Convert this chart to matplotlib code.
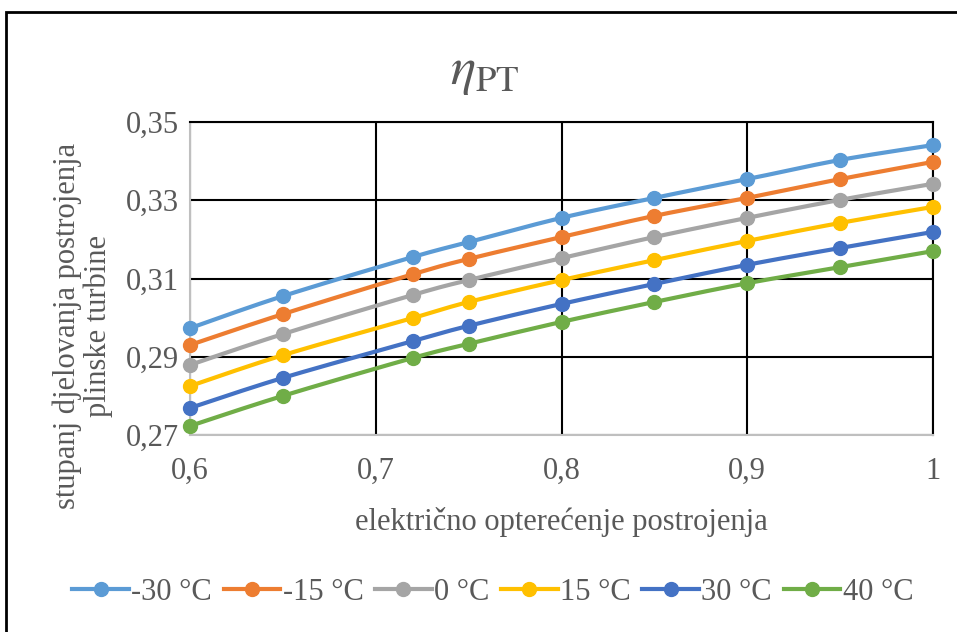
import numpy as np
import matplotlib
matplotlib.use('Agg')
import matplotlib.pyplot as plt
from matplotlib.patches import Rectangle
from matplotlib.lines import Line2D

# data
load = [0.6, 0.65, 0.72, 0.75, 0.8, 0.85, 0.9, 0.95, 1.0]
temps = ['-30 °C', '-15 °C', '0 °C', '15 °C', '30 °C', '40 °C']
eta_m30 = [0.2973, 0.3055, 0.3155, 0.3193, 0.3255, 0.3306, 0.3354, 0.3403, 0.3441]
eta_m15 = [0.2930, 0.3009, 0.3111, 0.3150, 0.3206, 0.3260, 0.3306, 0.3354, 0.3398]
eta_0 = [0.2879, 0.2958, 0.3058, 0.3096, 0.3152, 0.3206, 0.3255, 0.3301, 0.3342]
eta_15 = [0.2825, 0.2904, 0.2999, 0.3040, 0.3096, 0.3147, 0.3196, 0.3242, 0.3283]
eta_30 = [0.2769, 0.2846, 0.2940, 0.2979, 0.3035, 0.3086, 0.3135, 0.3178, 0.3219]
eta_40 = [0.2723, 0.2800, 0.2897, 0.2933, 0.2989, 0.3040, 0.3088, 0.3129, 0.3170]
series = [eta_m30, eta_m15, eta_0, eta_15, eta_30, eta_40]
colors = ['#5B9BD5', '#ED7D31', '#A5A5A5', '#FFC000', '#4472C4', '#70AD47']
xticks = [0.6, 0.7, 0.8, 0.9, 1.0]
xticklabels = ['0,6', '0,7', '0,8', '0,9', '1']
yticks = [0.27, 0.29, 0.31, 0.33, 0.35]
yticklabels = ['0,27', '0,29', '0,31', '0,33', '0,35']

txt = '#595959'
plt.rcParams['font.family'] = ['Liberation Serif', 'DejaVu Serif']
plt.rcParams['mathtext.fontset'] = 'stix'


def smooth(x, y, n=20):
    # Excel-style smoothed line (cubic bezier through the points)
    x = np.asarray(x, float)
    y = np.asarray(y, float)
    px = np.concatenate([[x[0]], x, [x[-1]]])
    py = np.concatenate([[y[0]], y, [y[-1]]])
    t = np.linspace(0, 1, n)
    xs, ys = [], []
    for i in range(1, len(px) - 2):
        p0 = np.array([px[i], py[i]])
        p3 = np.array([px[i + 1], py[i + 1]])
        c1 = p0 + (np.array([px[i + 1], py[i + 1]]) - np.array([px[i - 1], py[i - 1]])) / 6
        c2 = p3 - (np.array([px[i + 2], py[i + 2]]) - np.array([px[i], py[i]])) / 6
        b = ((1 - t) ** 3)[:, None] * p0 + (3 * (1 - t) ** 2 * t)[:, None] * c1 \
            + (3 * (1 - t) * t ** 2)[:, None] * c2 + (t ** 3)[:, None] * p3
        xs.extend(b[:, 0])
        ys.extend(b[:, 1])
    return xs, ys


fig = plt.figure(figsize=(9.57, 6.32), dpi=100)
ax = fig.add_axes([190 / 957, 1 - 435 / 632, 743 / 957, 313 / 632])

# outer frame (only left and top visible in the reference)
fig.patches.append(Rectangle((6 / 957, -0.1), 1.2, 1 - 12 / 632 + 0.1,
                             transform=fig.transFigure, fill=False,
                             edgecolor='black', linewidth=2))

for ys, c in zip(series, colors):
    sx, sy = smooth(load, ys)
    ax.plot(sx, sy, color=c, lw=3, zorder=3, clip_on=False)
    ax.plot(load, ys, 'o', color=c, ms=10, zorder=4, clip_on=False)

ax.set_xlim(0.6, 1.0)
ax.set_ylim(0.27, 0.35)
ax.set_xticks(xticks)
ax.set_xticklabels(xticklabels)
ax.set_yticks(yticks)
ax.set_yticklabels(yticklabels)
ax.grid(True, color='black', lw=1.5, zorder=1)
ax.set_axisbelow(True)
ax.tick_params(length=0, labelsize=22, labelcolor=txt)
ax.tick_params(axis='x', pad=16)
ax.tick_params(axis='y', pad=8)

for s in ['left', 'bottom']:
    ax.spines[s].set_color('#BFBFBF')
    ax.spines[s].set_linewidth(1.5)
for s in ['top', 'right']:
    ax.spines[s].set_color('black')
    ax.spines[s].set_linewidth(1.5)

fig.text(485 / 957, 1 - 73 / 632, r'$\eta_{\mathrm{PT}}$', fontsize=38, color=txt,
         ha='center', va='center')
ax.set_xlabel('električno opterećenje postrojenja', fontsize=22, color=txt, labelpad=15)
ax.set_ylabel('stupanj djelovanja postrojenja\nplinske turbine', fontsize=22,
              color=txt, linespacing=1.05)
ax.yaxis.set_label_coords(-0.104, 0.348)

handles = [Line2D([0], [0], color=c, lw=3, marker='o', ms=10) for c in colors]
leg = fig.legend(handles, temps, loc='center', bbox_to_anchor=(0.515, 1 - 592 / 632),
                 ncol=6, frameon=False, fontsize=22, handlelength=1.85,
                 handletextpad=0.08, columnspacing=0.38)
for t in leg.get_texts():
    t.set_color(txt)

fig.savefig('out.png', dpi=100)
